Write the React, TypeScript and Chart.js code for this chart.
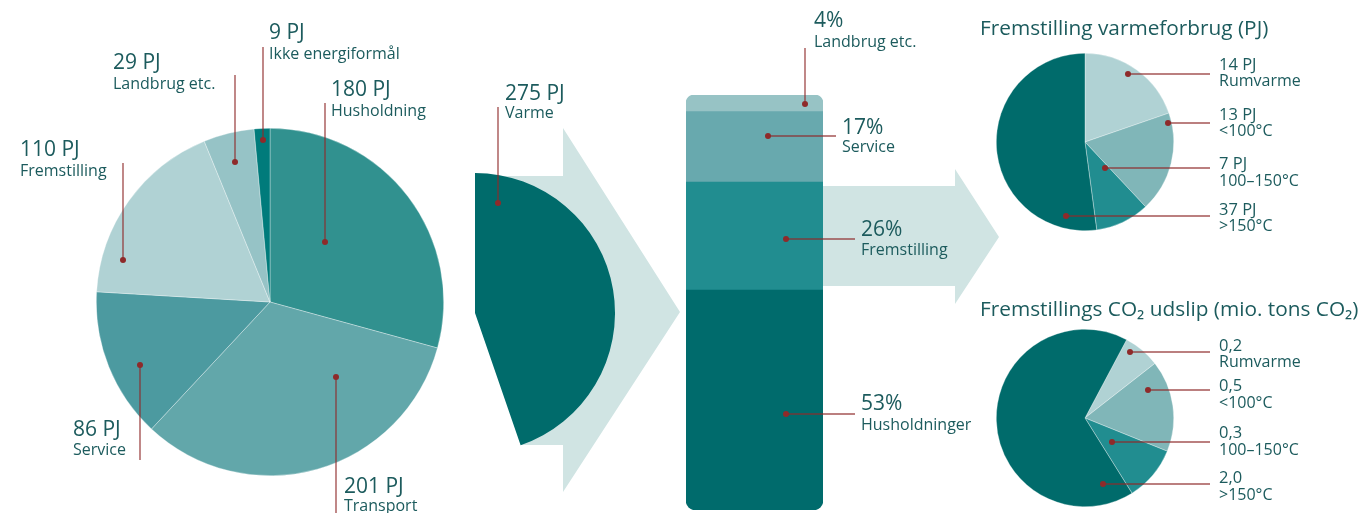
import React, { useEffect, useRef } from "react";
import { Chart, registerables } from "chart.js";
Chart.register(...registerables);

// ---- Data ----
const useLabels = ["Husholdning", "Transport", "Service", "Fremstilling", "Landbrug etc.", "Ikke energiformål"];
const useValues = [180, 201, 86, 110, 29, 9];
const useColors = ["#31918f", "#62a7aa", "#4c9aa0", "#b0d2d4", "#96c3c6", "#007b7b"];

const varmeLabel = "Varme";
const varmeValue = 275;

const heatShareLabels = ["Husholdninger", "Fremstilling", "Service", "Landbrug etc."];
const heatShareValues = [53, 26, 17, 4];
const heatShareColors = ["#006b6c", "#218d90", "#68a9ae", "#97c3c5"];

const processLabels = ["Rumvarme", "<100°C", "100–150°C", ">150°C"];
const processHeatPJ = [14, 13, 7, 37];
const processCO2 = [0.2, 0.5, 0.3, 2.0];
const processColors = ["#b0d2d4", "#80b6b8", "#218d90", "#006b6b"];

const TEXT = "#1c5b5d";
const LEADER = "#8e2a2a";
const ARROW = "#d0e4e3";
const FONT = "'Open Sans', Roboto, sans-serif";

const fmtComma = (v: number) => v.toFixed(1).replace(".", ",");

function ChartBox({ left, top, width, height, make }: any) {
  const ref = useRef<HTMLCanvasElement | null>(null);
  useEffect(() => {
    if (!ref.current) return;
    const chart = new Chart(ref.current, make());
    return () => chart.destroy();
  }, []);
  return (
    <div style={{ position: "absolute", left, top, width, height }}>
      <canvas ref={ref} />
    </div>
  );
}

const baseOpts = {
  responsive: true,
  maintainAspectRatio: false,
  animation: false,
  events: [],
  layout: { padding: 0 },
  plugins: { legend: { display: false }, tooltip: { enabled: false } },
};

function pieConfig(labels: string[], data: number[], colors: string[], rotation = 0, border = 0.6) {
  return {
    type: "pie",
    data: {
      labels,
      datasets: [{ data, backgroundColor: colors, borderColor: "rgba(255,255,255,0.55)", borderWidth: border }],
    },
    options: { ...baseOpts, rotation },
  };
}

function Label({ x, y, size, text, color = TEXT }: any) {
  return (
    <div
      style={{
        position: "absolute",
        left: x,
        top: y - size / 2,
        fontSize: size,
        lineHeight: size + "px",
        whiteSpace: "nowrap",
        color,
        fontFamily: FONT,
      }}
    >
      {text}
    </div>
  );
}

function TwoLine({ x, y1, y2, big, small, s1 = 21, s2 = 16 }: any) {
  return (
    <>
      <Label x={x} y={y1} size={s1} text={big} />
      <Label x={x} y={y2} size={s2} text={small} />
    </>
  );
}

// leader lines: [x1,y1 (dot), x2,y2]
const leaders: number[][] = [
  [263, 140, 263, 47],
  [235, 162, 235, 75],
  [325, 242, 325, 103],
  [123, 260, 123, 163],
  [140, 365, 140, 460],
  [336, 377, 336, 513],
  [498, 203, 498, 107],
  [805, 104, 805, 48],
  [768, 136, 836, 136],
  [786, 239, 855, 239],
  [786, 414, 855, 414],
  [1128, 74, 1210, 74],
  [1168, 123, 1210, 123],
  [1105, 168, 1210, 168],
  [1066, 216, 1210, 216],
  [1130, 352, 1210, 352],
  [1148, 390, 1210, 390],
  [1112, 442, 1210, 442],
  [1103, 484, 1210, 484],
];

export default function App() {
  const total = useValues.reduce((a, b) => a + b, 0);
  const pj = (v: number) => `${v} PJ`;
  return (
    <div style={{ position: "absolute", left: 0, top: 0, width: 1359, height: 513, overflow: "hidden", background: "#fff", fontFamily: FONT }}>
      <svg width={1359} height={513} style={{ position: "absolute", left: 0, top: 0 }}>
        <polygon points="477,176 563,176 563,128 680,312 563,492 563,445 521,445 477,313" fill={ARROW} />
        <polygon points="823,186 955,186 955,169 999,237 955,304 955,286 823,286" fill={ARROW} />
      </svg>

      <ChartBox left={96} top={128} width={348} height={348} make={() => pieConfig(useLabels, useValues, useColors)} />
      <ChartBox
        left={335}
        top={173}
        width={280}
        height={280}
        make={() => pieConfig([varmeLabel, ""], [varmeValue, total - varmeValue], ["#006b6b", "rgba(0,0,0,0)"], 0, 0)}
      />
      <ChartBox
        left={686}
        top={95}
        width={137}
        height={415}
        make={() => ({
          type: "bar",
          data: {
            labels: [varmeLabel],
            datasets: heatShareValues.map((v, i) => ({
              label: heatShareLabels[i],
              data: [v],
              backgroundColor: heatShareColors[i],
              borderWidth: 0,
              borderSkipped: false,
              borderRadius:
                i === 0
                  ? { topLeft: 0, topRight: 0, bottomLeft: 10, bottomRight: 10 }
                  : i === heatShareValues.length - 1
                  ? { topLeft: 10, topRight: 10, bottomLeft: 0, bottomRight: 0 }
                  : 0,
              categoryPercentage: 1,
              barPercentage: 1,
            })),
          },
          options: {
            ...baseOpts,
            scales: {
              x: { stacked: true, display: false },
              y: { stacked: true, display: false, min: 0, max: 100 },
            },
          },
        })}
      />
      <ChartBox left={996} top={53} width={178} height={178} make={() => pieConfig(processLabels, processHeatPJ, processColors)} />
      <ChartBox left={996} top={329} width={178} height={178} make={() => pieConfig(processLabels, processCO2, processColors, 28)} />

      <svg width={1359} height={513} style={{ position: "absolute", left: 0, top: 0 }}>
        {leaders.map((l, i) => (
          <g key={i}>
            <line x1={l[0]} y1={l[1]} x2={l[2]} y2={l[3]} stroke={LEADER} strokeWidth={1.4} strokeOpacity={0.8} />
            <circle cx={l[0]} cy={l[1]} r={3} fill={LEADER} />
          </g>
        ))}
      </svg>

      {/* big pie labels */}
      <TwoLine x={269} y1={31} y2={53} big={pj(useValues[5])} small={useLabels[5]} />
      <TwoLine x={113} y1={61} y2={83} big={pj(useValues[4])} small={useLabels[4]} />
      <TwoLine x={331} y1={88} y2={110} big={pj(useValues[0])} small={useLabels[0]} />
      <TwoLine x={20} y1={148} y2={170} big={pj(useValues[3])} small={useLabels[3]} />
      <TwoLine x={73} y1={428} y2={449} big={pj(useValues[2])} small={useLabels[2]} />
      <TwoLine x={344} y1={485} y2={505} big={pj(useValues[1])} small={useLabels[1]} />
      <TwoLine x={505} y1={92} y2={112} big={pj(varmeValue)} small={varmeLabel} />

      {/* bar labels */}
      <TwoLine x={814} y1={19} y2={41} big={`${heatShareValues[3]}%`} small={heatShareLabels[3]} />
      <TwoLine x={842} y1={126} y2={146} big={`${heatShareValues[2]}%`} small={heatShareLabels[2]} />
      <TwoLine x={861} y1={228} y2={249} big={`${heatShareValues[1]}%`} small={heatShareLabels[1]} />
      <TwoLine x={861} y1={402} y2={424} big={`${heatShareValues[0]}%`} small={heatShareLabels[0]} />

      {/* right titles */}
      <Label x={980} y={27} size={20.8} text="Fremstilling varmeforbrug (PJ)" />
      <Label x={980} y={308} size={20.8} text="Fremstillings CO₂ udslip (mio. tons CO₂)" />

      {processLabels.map((lab, i) => (
        <TwoLine key={"h" + i} x={1219} y1={[64, 114, 163, 209][i]} y2={[80, 130, 180, 225][i]} big={pj(processHeatPJ[i])} small={lab} s1={16.5} s2={16} />
      ))}
      {processLabels.map((lab, i) => (
        <TwoLine key={"c" + i} x={1219} y1={[345, 385, 432, 477][i]} y2={[361, 402, 449, 494][i]} big={fmtComma(processCO2[i])} small={lab} s1={16.5} s2={16} />
      ))}
    </div>
  );
}
